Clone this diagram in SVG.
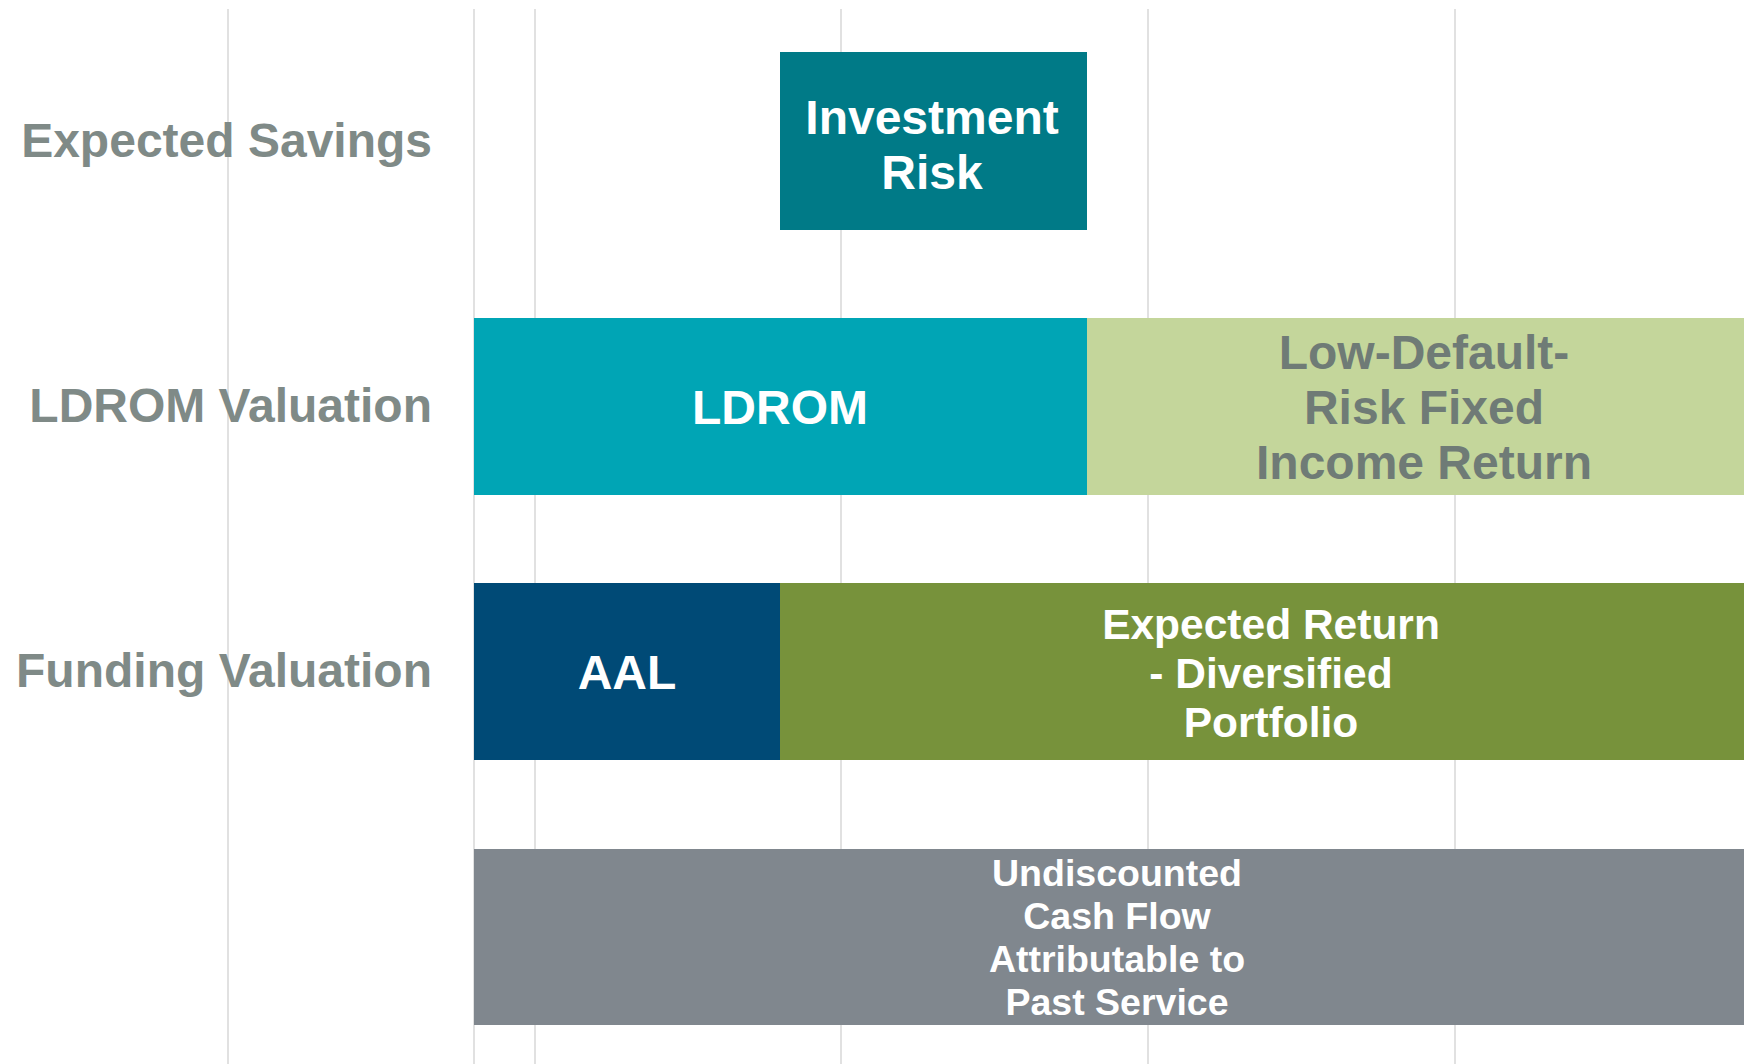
<svg xmlns="http://www.w3.org/2000/svg" width="1744" height="1064" viewBox="0 0 1744 1064">
  <style>
    .grid { stroke: #E1E1E1; stroke-width: 2; }
    .lbl { font-family: "Liberation Sans", Arial, sans-serif; font-weight: bold; font-size: 48px; fill: #7F8A87; text-anchor: end; }
    .t48 { font-family: "Liberation Sans", Arial, sans-serif; font-weight: bold; font-size: 48px; fill: #FFFFFF; text-anchor: middle; }
    .t40 { font-family: "Liberation Sans", Arial, sans-serif; font-weight: bold; font-size: 42.5px; fill: #FFFFFF; text-anchor: middle; }
    .t36 { font-family: "Liberation Sans", Arial, sans-serif; font-weight: bold; font-size: 37.5px; fill: #FFFFFF; text-anchor: middle; }
    .dark { fill: #6F7B76; }
  </style>
  <rect x="0" y="0" width="1744" height="1064" fill="#FFFFFF"/>
  <g id="gridlines">
    <line class="grid" x1="228" y1="9" x2="228" y2="1064"/>
    <line class="grid" x1="474" y1="9" x2="474" y2="1064"/>
    <line class="grid" x1="535" y1="9" x2="535" y2="1064"/>
    <line class="grid" x1="841" y1="9" x2="841" y2="1064"/>
    <line class="grid" x1="1148" y1="9" x2="1148" y2="1064"/>
    <line class="grid" x1="1455" y1="9" x2="1455" y2="1064"/>
  </g>
  <g id="row-labels">
    <text class="lbl" x="432" y="157">Expected Savings</text>
    <text class="lbl" x="432" y="422">LDROM Valuation</text>
    <text class="lbl" x="432" y="687">Funding Valuation</text>
  </g>
  <g id="investment-risk">
    <rect x="780" y="52" width="307" height="178" fill="#007A87"/>
    <text class="t48" x="932" y="134">Investment</text>
    <text class="t48" x="932" y="189">Risk</text>
  </g>
  <g id="ldrom">
    <rect x="474" y="318" width="613" height="177" fill="#00A5B5"/>
    <text class="t48" x="780" y="424">LDROM</text>
  </g>
  <g id="low-default-risk">
    <rect x="1087" y="318" width="673" height="177" fill="#C4D69B"/>
    <text class="t48 dark" x="1424" y="369">Low-Default-</text>
    <text class="t48 dark" x="1424" y="424">Risk Fixed</text>
    <text class="t48 dark" x="1424" y="479">Income Return</text>
  </g>
  <g id="aal">
    <rect x="474" y="583" width="306" height="177" fill="#004A76"/>
    <text class="t48" x="627" y="689">AAL</text>
  </g>
  <g id="expected-return">
    <rect x="780" y="583" width="980" height="177" fill="#77923B"/>
    <text class="t40" x="1271" y="639">Expected Return</text>
    <text class="t40" x="1271" y="688">- Diversified</text>
    <text class="t40" x="1271" y="737">Portfolio</text>
  </g>
  <g id="undiscounted-cash-flow">
    <rect x="474" y="849" width="1286" height="176" fill="#80878E"/>
    <text class="t36" x="1117" y="886">Undiscounted</text>
    <text class="t36" x="1117" y="929">Cash Flow</text>
    <text class="t36" x="1117" y="972">Attributable to</text>
    <text class="t36" x="1117" y="1015">Past Service</text>
  </g>
  <g id="connectors"></g>
</svg>
